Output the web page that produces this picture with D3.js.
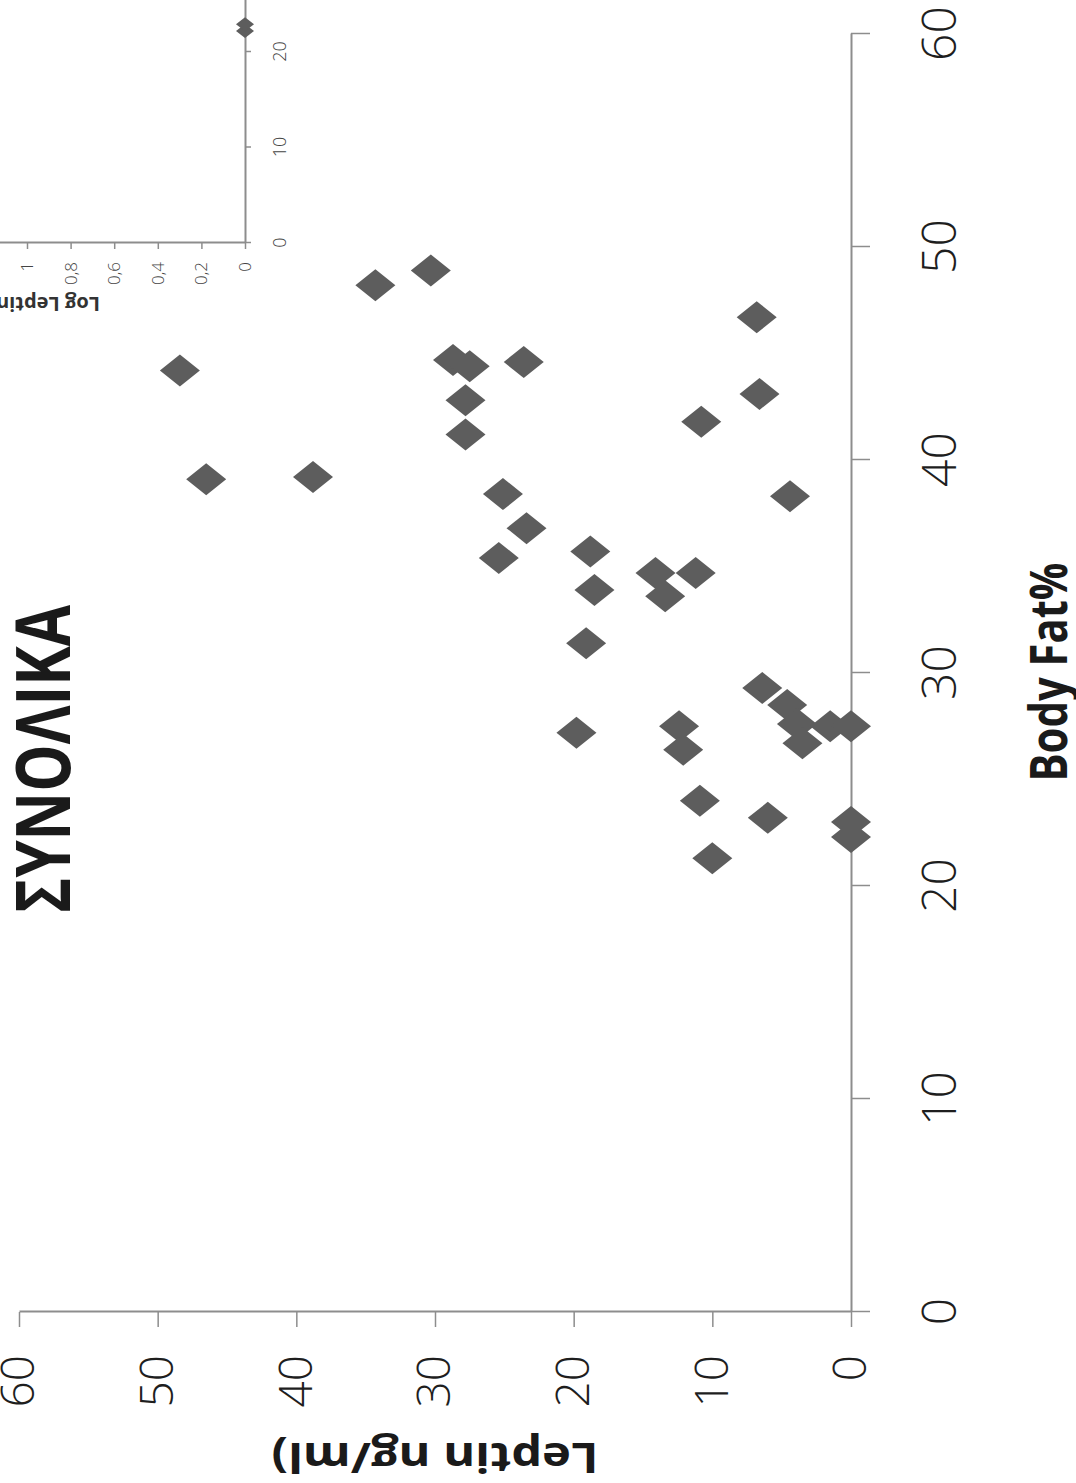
<!DOCTYPE html>
<html>
<head>
<meta charset="utf-8">
<script src="https://cdn.jsdelivr.net/npm/d3@7"></script>
<style>
  body { margin: 0; background: #fff; }
  svg { display: block; }
  text { font-family: "Open Sans", sans-serif; }
</style>
</head>
<body>
<div id="chart"></div>
<script>
//************* data ***********************************/
var bodyFat = [44.2, 39.1, 39.2, 48.2, 48.9, 44.7, 44.4, 44.6, 42.8, 41.2,
               38.4, 36.8, 35.4, 35.7, 33.9, 34.7, 34.7, 33.6, 31.4, 46.7,
               43.1, 41.8, 38.3, 29.3, 28.5, 27.6, 26.7, 27.5, 27.5, 27.2,
               27.5, 26.4, 24.0, 23.2, 23.0, 22.3, 21.3];
var leptin  = [48.4, 46.5, 38.8, 34.3, 30.3, 28.7, 27.5, 23.6, 27.8, 27.8,
               25.1, 23.4, 25.4, 18.8, 18.5, 14.1, 11.2, 13.4, 19.1, 6.8,
               6.6, 10.8, 4.4, 6.4, 4.6, 3.9, 3.5, 1.5, 0, 19.8,
               12.4, 12.1, 10.9, 6.0, 0, 0, 10.0];

var insetBodyFat = [22.2, 22.9];
var insetLogLeptin = [0, 0];

var bodyFatTicks = [0, 10, 20, 30, 40, 50, 60];
var leptinTicks = [0, 10, 20, 30, 40, 50, 60];
var insetFatTicks = [0, 10, 20];
var insetLogTicks = [0, 0.2, 0.4, 0.6, 0.8, 1];

var titleText = "ΣΥΝΟΛΙΚΑ";
var xTitle = "Body Fat%";
var yTitle = "Leptin ng/ml)";
var insetYTitle = "Log Leptin";

//************* set dimensions ***************/
var W = 1076, H = 1483;
var width = 1278, height = 832;     // plot area before the page turn

var svg = d3.select("#chart")
  .append("svg")
    .attr("width", W)
    .attr("height", H);

svg.append("rect").attr("width", W).attr("height", H).attr("fill", "#fff");

var axisColor = "#8d8d8d";
var grecoFormat = d3.formatLocale({decimal: ",", thousands: ".", grouping: [3], currency: ["", ""]}).format("~g");

function styleAxis(sel, size, color) {
  sel.select(".domain").attr("stroke", axisColor).attr("stroke-width", 2);
  sel.selectAll(".tick line").attr("stroke", axisColor).attr("stroke-width", 1.5);
  sel.selectAll(".tick text")
    .attr("fill", color)
    .style("font-size", size + "px")
    .style("font-weight", 300);
}

//************* inset (cut off by the scan) ***************/
var ih = 261.6;
var inset = svg.append("g")
  .attr("transform", "translate(-16.6,243) rotate(-90)");

var ix = d3.scaleLinear().domain([0, 30]).range([0, 286.5]);
var iy = d3.scaleLinear().domain([0, 1.2]).range([ih, 0]);

inset.append("g")
  .attr("transform", "translate(0," + ih + ")")
  .call(d3.axisBottom(ix).tickValues(insetFatTicks).tickSize(6).tickSizeOuter(0).tickPadding(22))
  .call(styleAxis, 18, "#444");

inset.append("g")
  .call(d3.axisLeft(iy).tickValues(insetLogTicks).tickFormat(grecoFormat).tickSize(6).tickSizeOuter(0).tickPadding(13))
  .call(styleAxis, 17, "#444");

inset.append("text")
  .attr("transform", "translate(-54,116.6) rotate(-90)")
  .attr("text-anchor", "start")
  .attr("fill", "#333")
  .style("font-size", "20px")
  .style("font-weight", 700)
  .text(insetYTitle);

inset.selectAll("path.ipt")
  .data(insetBodyFat)
  .enter()
  .append("path")
    .attr("class", "ipt")
    .attr("d", "M0,-9L7,0L0,9L-7,0Z")
    .attr("fill", "#5d5d5d")
    .attr("transform", function(d, i) { return "translate(" + ix(d) + "," + iy(insetLogLeptin[i]) + ")"; });

//************* main chart, turned 90deg counter-clockwise ***************/
var g = svg.append("g")
  .attr("transform", "translate(19,1312) rotate(-90)");

var x = d3.scaleLinear().domain([0, 60]).range([0, width]);
var y = d3.scaleLinear().domain([0, 60]).range([height, 0]);

g.append("g")
  .attr("transform", "translate(0," + height + ")")
  .call(d3.axisBottom(x).tickValues(bodyFatTicks).tickSize(19).tickSizeOuter(0).tickPadding(52))
  .call(styleAxis, 48, "#1e1e1e");

g.append("g")
  .call(d3.axisLeft(y).tickValues(leptinTicks).tickSize(15).tickSizeOuter(0).tickPadding(28))
  .call(styleAxis, 46, "#1e1e1e");

// the points
g.append("g")
  .selectAll("path")
  .data(bodyFat)
  .enter()
  .append("path")
    .attr("d", "M0,-20L16,0L0,20L-16,0Z")
    .attr("fill", "#5d5d5d")
    .attr("transform", function(d, i) { return "translate(" + x(d) + "," + y(leptin[i]) + ")"; });

// titles
g.append("text")
  .attr("x", 553).attr("y", 51)
  .attr("text-anchor", "middle")
  .attr("textLength", 308).attr("lengthAdjust", "spacingAndGlyphs")
  .attr("fill", "#1a1a1a")
  .style("font-size", "76px").style("font-weight", 700)
  .text(titleText);

g.append("text")
  .attr("x", 640).attr("y", 1048)
  .attr("text-anchor", "middle")
  .attr("textLength", 219).attr("lengthAdjust", "spacingAndGlyphs")
  .attr("fill", "#1a1a1a")
  .style("font-size", "52px").style("font-weight", 700)
  .text(xTitle);

g.append("text")
  .attr("transform", "translate(-131,416) rotate(-90)")
  .attr("text-anchor", "middle")
  .attr("textLength", 327).attr("lengthAdjust", "spacingAndGlyphs")
  .attr("fill", "#1a1a1a")
  .style("font-size", "42px").style("font-weight", 700)
  .text(yTitle);
</script>
</body>
</html>
